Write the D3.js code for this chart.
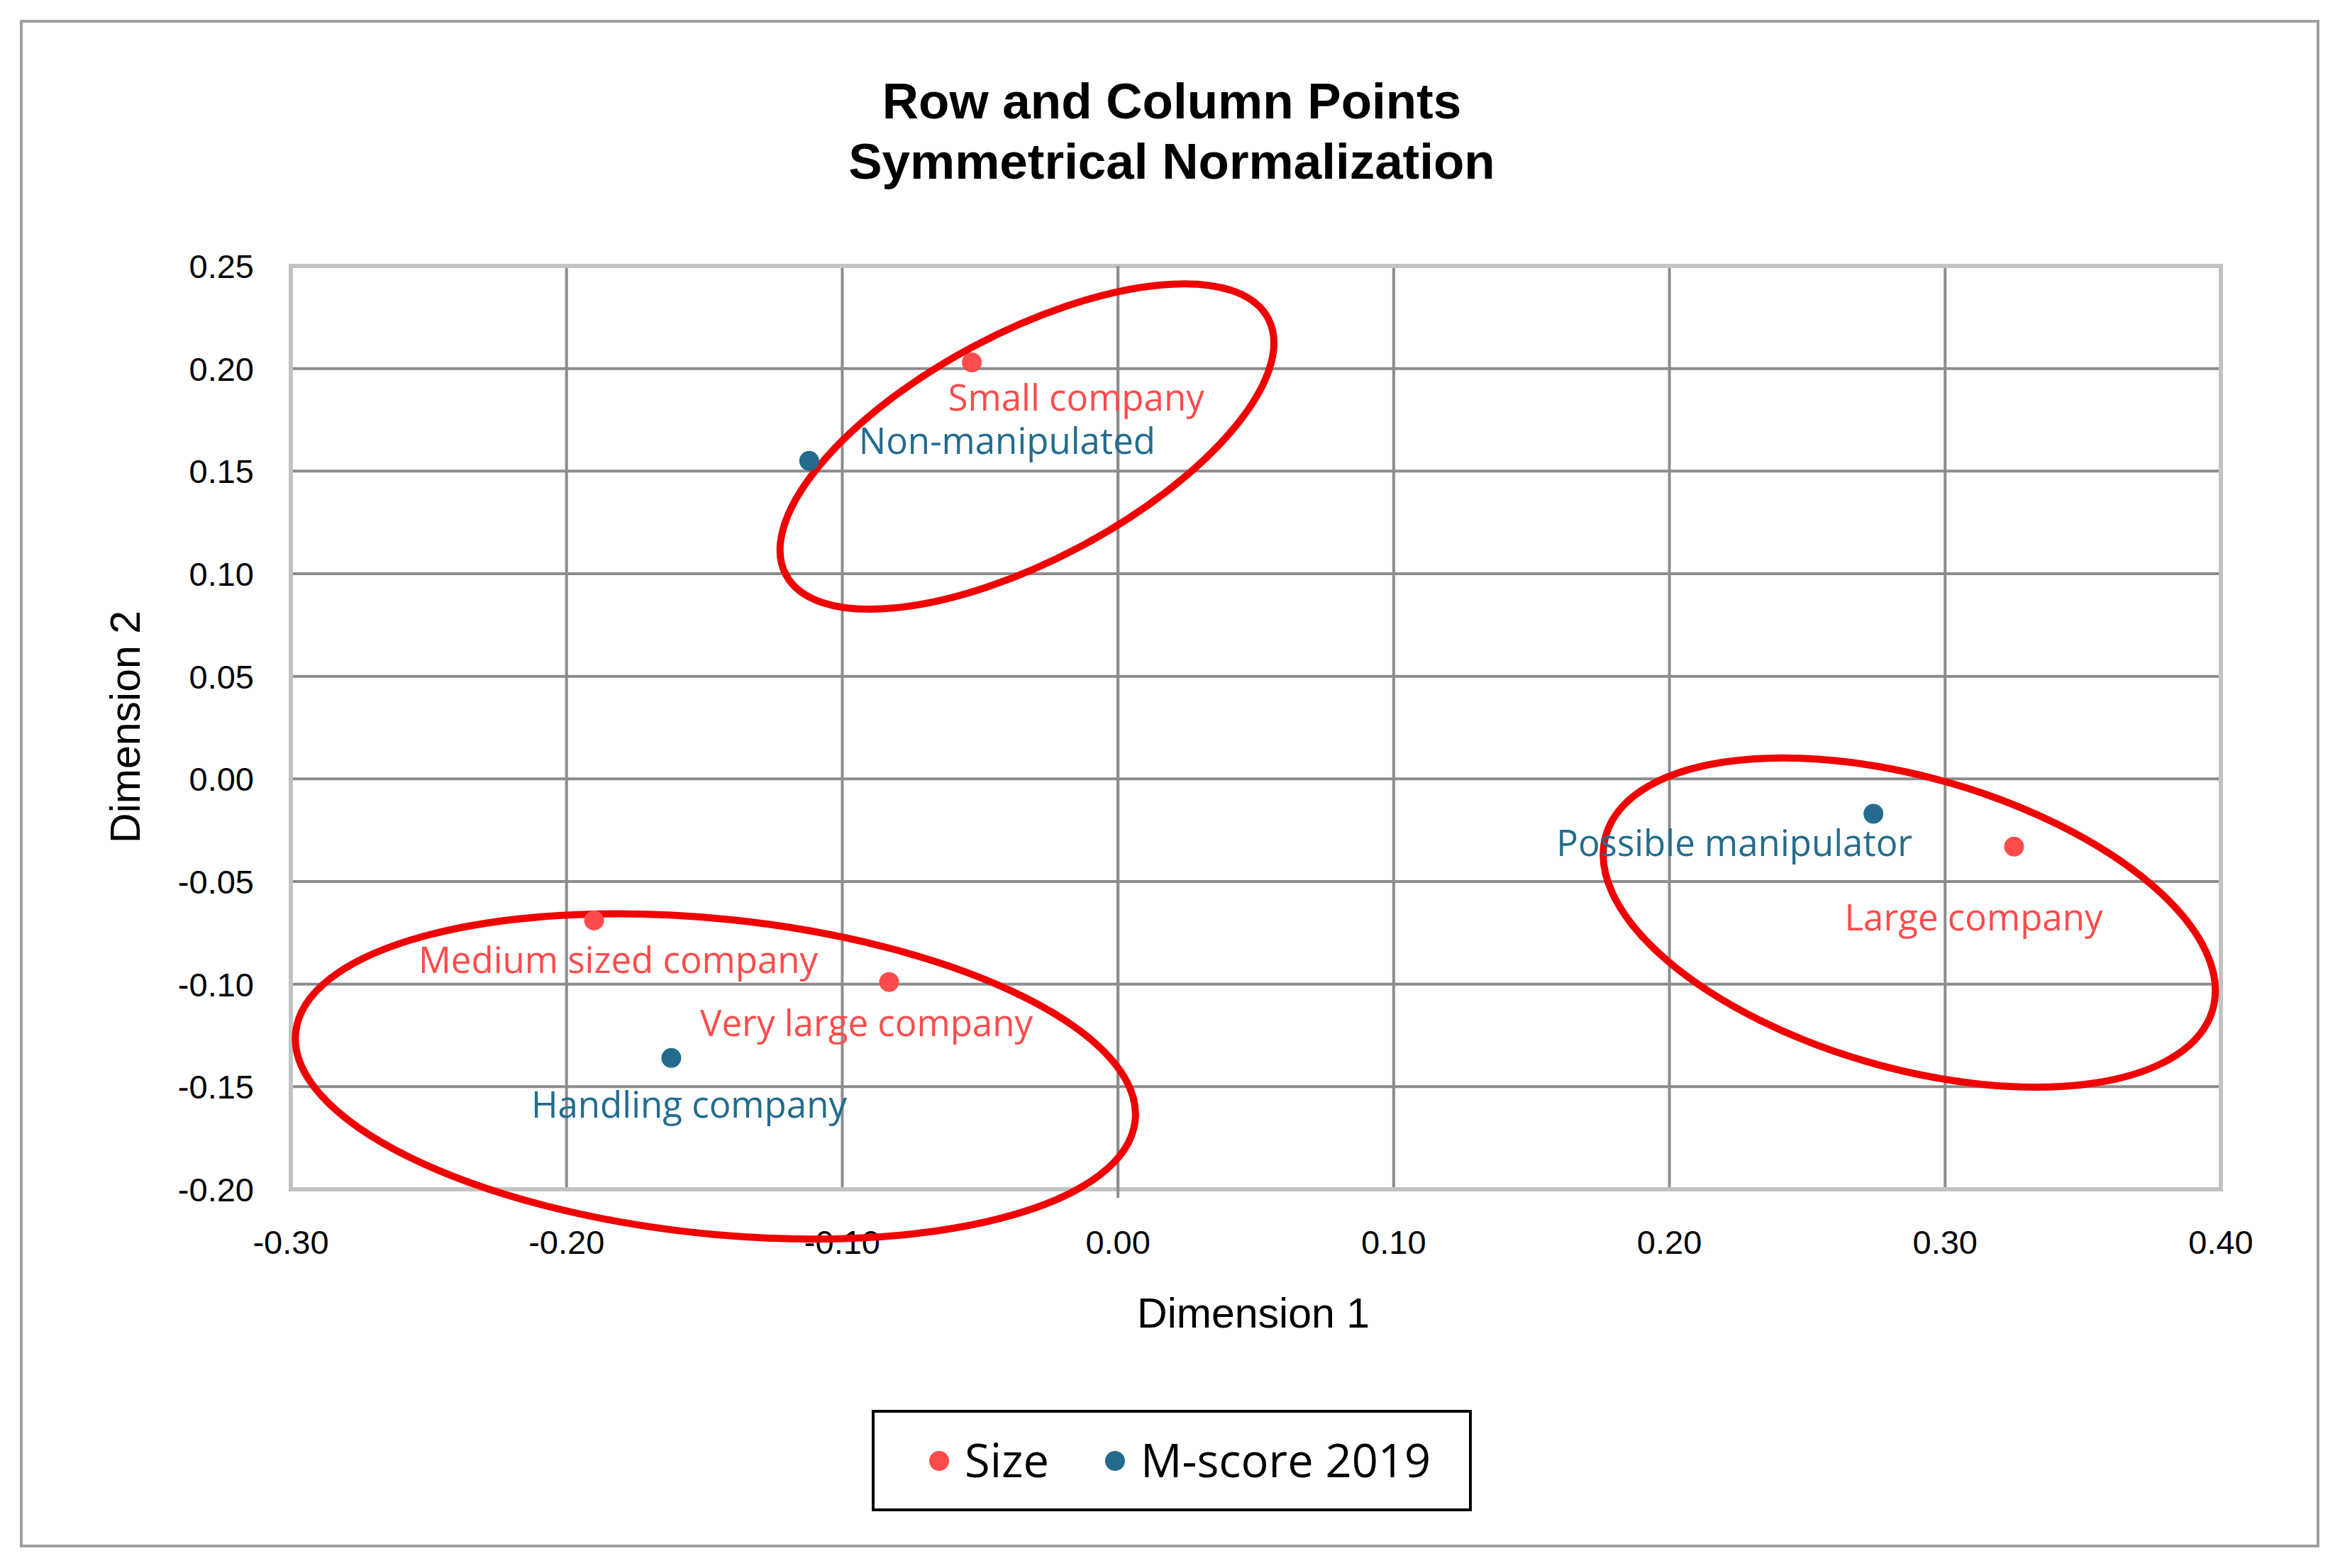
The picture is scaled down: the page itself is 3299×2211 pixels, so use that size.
<!DOCTYPE html>
<html><head><meta charset="utf-8">
<script src="https://cdn.jsdelivr.net/npm/d3@7"></script>
<style>body{margin:0;background:#fff}</style>
</head><body><div id="chart"></div>
<script>
// data
const sizeNames = ["Small company", "Medium sized company", "Very large company", "Large company"];
const sizeX = [-0.053, -0.190, -0.083, 0.325];
const sizeY = [0.203, -0.069, -0.099, -0.033];
const mNames = ["Non-manipulated", "Handling company", "Possible manipulator"];
const mX = [-0.112, -0.162, 0.274];
const mY = [0.155, -0.136, -0.017];
const xTicks = [-0.3, -0.2, -0.1, 0, 0.1, 0.2, 0.3, 0.4];
const yTicks = [-0.2, -0.15, -0.1, -0.05, 0, 0.05, 0.1, 0.15, 0.2, 0.25];
// ellipse annotation centres (data units)
const ellCx = [-0.033, -0.146, 0.287];
const ellCy = [0.162, -0.145, -0.070];

const W = 3299, H = 2211;
const red = "#ff4b4b", blue = "#236c8e";
const m = { left: 410, right: 3131, top: 375, bottom: 1677 };

const svg = d3.select("#chart").append("svg").attr("width", W).attr("height", H);
svg.append("rect").attr("x", 30).attr("y", 30).attr("width", 3238).attr("height", 2150)
  .attr("fill", "#fff").attr("stroke", "#a0a0a0").attr("stroke-width", 4);

const x = d3.scaleLinear().domain([-0.3, 0.4]).range([m.left, m.right]);
const y = d3.scaleLinear().domain([-0.2, 0.25]).range([m.bottom, m.top]);
const fmt = d => d3.format(".2f")(d).replace("−", "-");

// grid
svg.append("g").selectAll("line").data(xTicks.slice(1, -1)).join("line")
  .attr("x1", d => x(d)).attr("x2", d => x(d)).attr("y1", m.top).attr("y2", m.bottom)
  .attr("stroke", "#8c8c8c").attr("stroke-width", 4);
svg.append("g").selectAll("line").data(yTicks.slice(1, -1)).join("line")
  .attr("y1", d => y(d)).attr("y2", d => y(d)).attr("x1", m.left).attr("x2", m.right)
  .attr("stroke", "#8c8c8c").attr("stroke-width", 4);
svg.append("rect").attr("x", m.left).attr("y", m.top)
  .attr("width", m.right - m.left).attr("height", m.bottom - m.top)
  .attr("fill", "none").attr("stroke", "#c3c3c3").attr("stroke-width", 6);
svg.append("line").attr("x1", x(0)).attr("x2", x(0)).attr("y1", m.top).attr("y2", m.bottom + 12)
  .attr("stroke", "#8c8c8c").attr("stroke-width", 4);

// tick labels
const tf = "'Liberation Sans', Arial, sans-serif";
svg.append("g").selectAll("text").data(xTicks).join("text")
  .attr("x", d => x(d)).attr("y", 1768).attr("text-anchor", "middle")
  .attr("font-family", tf).attr("font-size", 47).text(fmt);
svg.append("g").selectAll("text").data(yTicks).join("text")
  .attr("x", 358).attr("y", d => y(d) + 17).attr("text-anchor", "end")
  .attr("font-family", tf).attr("font-size", 47).text(fmt);

// titles
svg.append("text").attr("x", 1652).attr("y", 167).attr("text-anchor", "middle")
  .attr("font-family", tf).attr("font-weight", "bold").attr("font-size", 71).text("Row and Column Points");
svg.append("text").attr("x", 1652).attr("y", 252).attr("text-anchor", "middle")
  .attr("font-family", tf).attr("font-weight", "bold").attr("font-size", 71).text("Symmetrical Normalization");
svg.append("text").attr("x", 1767).attr("y", 1872).attr("text-anchor", "middle")
  .attr("font-family", tf).attr("font-size", 59).text("Dimension 1");
svg.append("text").attr("transform", "translate(197,1025) rotate(-90)").attr("text-anchor", "middle")
  .attr("font-family", tf).attr("font-size", 59).text("Dimension 2");

// ellipses
const ellRx = [385, 595, 445], ellRy = [160, 222, 205], ellRot = [-28, 6, 16];
svg.append("g").selectAll("ellipse").data(ellCx).join("ellipse")
  .attr("cx", 0).attr("cy", 0).attr("rx", (d, i) => ellRx[i]).attr("ry", (d, i) => ellRy[i])
  .attr("transform", (d, i) => `translate(${x(d)},${y(ellCy[i])}) rotate(${ellRot[i]})`)
  .attr("fill", "none").attr("stroke", "#f00000").attr("stroke-width", 10);

// points and labels
const lf = "'Open Sans', 'Noto Sans', sans-serif";
const sizePts = sizeNames.map((n, i) => ({ n, x: sizeX[i], y: sizeY[i] }));
const mPts = mNames.map((n, i) => ({ n, x: mX[i], y: mY[i] }));
const sizeOff = [[147, 50, "middle"], [34, 56, "middle"], [-32, 58, "middle"], [-57, 100, "middle"]];
const mOff = [[70, -28, "start"], [25, 66, "middle"], [-196, 42, "middle"]];

function draw(pts, col, off) {
  const g = svg.append("g");
  g.selectAll("circle").data(pts).join("circle")
    .attr("cx", d => x(d.x)).attr("cy", d => y(d.y)).attr("r", 14).attr("fill", col);
  g.selectAll("text").data(pts).join("text")
    .attr("x", (d, i) => x(d.x) + off[i][0]).attr("y", (d, i) => y(d.y) + off[i][1])
    .attr("dy", "0.35em").attr("text-anchor", (d, i) => off[i][2])
    .attr("font-family", lf).attr("font-size", 51).attr("fill", col).text(d => d.n);
}
draw(sizePts, red, sizeOff);
draw(mPts, blue, mOff);

// legend
const lg = svg.append("g");
lg.append("rect").attr("x", 1231).attr("y", 1990).attr("width", 842).attr("height", 139)
  .attr("fill", "#fff").attr("stroke", "#000").attr("stroke-width", 4);
const legItems = [["Size", red, 1324], ["M-score 2019", blue, 1572]];
legItems.forEach(([t, c, lx]) => {
  lg.append("circle").attr("cx", lx).attr("cy", 2060).attr("r", 14).attr("fill", c);
  lg.append("text").attr("x", lx + 36).attr("y", 2083).attr("font-family", lf)
    .attr("font-size", 65).attr("fill", "#000").text(t);
});
</script></body></html>
